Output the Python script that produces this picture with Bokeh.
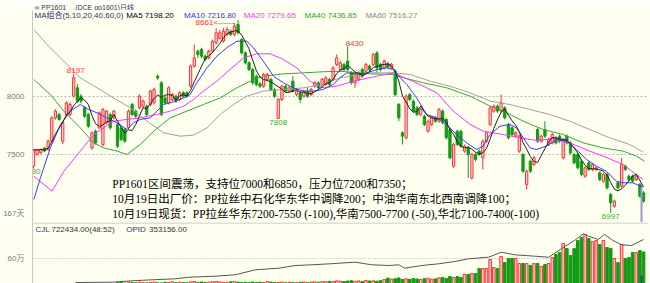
import numpy as np
import pandas as pd
from bokeh.plotting import figure
from bokeh.layouts import column
from bokeh.models import Range1d, FixedTicker, CustomJSTickFormatter, Span
from bokeh.core.properties import value
from bokeh.embed import file_html
from bokeh.resources import INLINE

# ---------------- data ----------------
opens = [7400, 7500, 7515, 7557, 7543, 7615, 7816, 7845, 7615, 7845, 7845,
         8003, 8075, 8003, 7902, 7845, 7557, 7701, 7730, 7586, 7773,
         7845, 7816, 7759, 7730, 7715, 7730, 7931, 7874, 7902, 7917,
         7917, 7931, 7945, 8175, 8118, 7988, 7945, 7974, 8003, 7974,
         8032, 8032, 8089, 8262, 8391, 8405, 8348, 8333, 8391, 8463, 8500,
         8477, 8535, 8563, 8535, 8621, 8491, 8376, 8290, 8233, 8175, 8110, 8089,
         8147, 8147, 8060, 7810, 7974, 8089, 8046, 8132, 8017, 8032,
         8003, 8046, 8017, 8089, 8118, 8103, 8103, 8147, 8147, 8276,
         8233, 8276, 8305, 8204, 8118, 8147, 8233, 8218, 8262, 8276,
         8376, 8276, 8247, 8283, 8247, 8218, 7931, 7687, 7644, 8017,
         7960, 7902, 7845, 7830, 7701, 7759, 7816, 7787, 7874, 7802,
         7715, 7399, 7701, 7701, 7529, 7557, 7299, 7500, 7529, 7471,
         7615, 7759, 7874, 7917, 7874, 7902, 7759, 7730, 7658, 7529,
         7500, 7241, 7442, 7414, 7715, 7615, 7715, 7586,
         7600, 7644, 7658, 7471, 7658, 7600, 7500, 7500, 7442,
         7313, 7428, 7371, 7371, 7342, 7270, 7328, 7155, 7054, 7256,
         7227, 7399, 7313, 7313, 7284, 7241, 7169]
highs = [7550, 7545, 7550, 7560, 7630, 7830, 7890, 7860, 7790, 7960, 7950,
         8197, 8110, 8020, 7920, 7860, 7700, 7715, 7870, 7900, 7885,
         7860, 7885, 7770, 7740, 7730, 7890, 7945, 7888, 8017, 7974,
         7931, 8060, 8075, 8190, 8132, 8003, 8089, 8032, 8017, 8046,
         8046, 8046, 8276, 8448, 8405, 8420, 8362, 8405, 8491, 8590, 8575,
         8592, 8600, 8578, 8635, 8661, 8505, 8390, 8305, 8247, 8190, 8125, 8204,
         8204, 8161, 8075, 7988, 8103, 8103, 8089, 8175, 8060, 8046,
         8060, 8075, 8075, 8132, 8132, 8161, 8175, 8161, 8262, 8362,
         8305, 8290, 8430, 8218, 8204, 8218, 8247, 8290, 8276, 8376,
         8391, 8290, 8319, 8300, 8290, 8233, 7945, 7700, 8017, 8032,
         7974, 7917, 7902, 7845, 7802, 7830, 7830, 7902, 7888, 7816,
         7730, 7600, 7715, 7715, 7586, 7572, 7514, 7514, 7543, 7629,
         7701, 7917, 7931, 7931, 8017, 7917, 7773, 7744, 7701, 7672,
         7514, 7371, 7457, 7486, 7730, 7672, 7787, 7644,
         7687, 7658, 7672, 7644, 7672, 7615, 7514, 7514, 7457,
         7399, 7442, 7428, 7399, 7356, 7342, 7342, 7169, 7112, 7270,
         7471, 7414, 7328, 7328, 7328, 7256, 7184]
lows = [7380, 7490, 7505, 7520, 7530, 7600, 7800, 7790, 7590, 7830, 7830,
        7990, 7945, 7940, 7815, 7730, 7540, 7585, 7720, 7570, 7760,
        7715, 7800, 7557, 7615, 7600, 7715, 7830, 7816, 7888, 7902,
        7830, 7917, 7931, 8140, 7830, 7931, 7931, 7960, 7945, 7960,
        7988, 7988, 8075, 8247, 8333, 8333, 8305, 8319, 8376, 8448, 8490,
        8463, 8520, 8520, 8520, 8535, 8362, 8276, 8218, 8103, 8089, 8075, 8075,
        8132, 8046, 7988, 7808, 7960, 8032, 8032, 8032, 8003, 7945,
        7988, 7988, 8003, 8075, 8060, 8089, 8089, 8089, 8132, 8262,
        8218, 8218, 8218, 8103, 8075, 8132, 8161, 8204, 8218, 8262,
        8204, 8218, 8233, 8240, 8233, 8003, 7787, 7586, 7629, 7960,
        7859, 7830, 7830, 7744, 7687, 7744, 7773, 7773, 7759, 7629,
        7457, 7385, 7572, 7557, 7514, 7299, 7284, 7442, 7486, 7371,
        7600, 7744, 7859, 7859, 7859, 7802, 7629, 7658, 7644, 7514,
        7342, 7198, 7342, 7399, 7600, 7600, 7644, 7572,
        7586, 7586, 7600, 7457, 7586, 7500, 7414, 7371, 7313,
        7299, 7356, 7356, 7356, 7270, 7256, 7198, 6997, 7040, 7198,
        7213, 7356, 7270, 7256, 7270, 7126, 7083]
closes = [7540, 7540, 7545, 7530, 7615, 7816, 7874, 7802, 7773, 7945, 7931,
          8161, 7960, 7960, 7830, 7744, 7687, 7600, 7859, 7888, 7874,
          7730, 7874, 7572, 7629, 7615, 7874, 7845, 7830, 8003, 7960,
          7845, 8046, 8060, 8161, 7845, 7945, 8075, 8017, 7960, 8032,
          8003, 8003, 8262, 8333, 8362, 8348, 8319, 8391, 8477, 8549, 8549,
          8563, 8578, 8535, 8606, 8549, 8376, 8290, 8233, 8118, 8103, 8089, 8190,
          8190, 8060, 8003, 7974, 8089, 8046, 8075, 8046, 8046, 7974,
          8046, 8003, 8060, 8118, 8075, 8147, 8161, 8103, 8247, 8333,
          8290, 8233, 8233, 8118, 8190, 8204, 8175, 8276, 8233, 8362,
          8247, 8233, 8305, 8254, 8276, 8017, 7816, 7658, 8003, 7974,
          7874, 7845, 7888, 7759, 7787, 7816, 7787, 7888, 7773, 7644,
          7471, 7586, 7586, 7572, 7572, 7500, 7500, 7457, 7500, 7615,
          7687, 7902, 7917, 7874, 7945, 7816, 7644, 7672, 7687, 7658,
          7356, 7356, 7356, 7471, 7615, 7658, 7658, 7629,
          7672, 7600, 7615, 7629, 7600, 7514, 7428, 7385, 7328,
          7385, 7371, 7414, 7385, 7284, 7328, 7213, 7083, 7098, 7213,
          7414, 7371, 7284, 7270, 7313, 7141, 7098]
volumes = [62000, 70000, 58000, 66000, 95000, 88000, 74000, 80000, 92000, 78000,
           105000, 96000, 84000, 90000, 101000, 112000, 98000, 94000, 108000, 99000,
           103000, 110000, 117000,
           148000, 152000, 141000, 156000, 150000, 146000, 158000, 149000, 144000, 153000,
           160000, 147000, 142000, 155000, 151000, 163000, 148000, 157000, 150000, 145000,
           162000, 168000, 154000, 160000, 149000, 158000, 165000, 170000, 161000, 156000,
           152000, 163000, 167000, 158000, 150000, 155000, 148000, 160000, 152000, 157000,
           149000, 166000, 159000, 153000, 150000, 158000, 147000, 156000, 151000, 149000,
           155000, 160000, 153000, 158000, 162000, 155000, 168000, 164000,
           172000, 168000, 181000, 176000, 170000, 178000, 185000, 174000, 180000, 171000,
           188000, 179000, 183000, 175000, 186000,
           205000, 232000, 214000, 221000, 236000, 208000, 219000, 211000, 226000, 215000,
           209000, 222000, 230000, 212000, 218000, 238000, 245000, 228000,
           262000, 244000, 262000, 244000, 300000, 300000, 319000, 319000, 412000, 412000,
           412000, 581000, 431000, 412000, 638000, 525000, 600000, 600000, 600000, 506000,
           506000, 506000, 469000, 506000, 506000, 450000, 488000, 506000, 619000, 675000,
           713000, 881000, 788000, 656000, 788000, 938000, 994000, 1050000, 975000, 919000,
           938000, 863000, 938000, 806000, 788000, 600000, 525000, 863000, 600000, 619000,
           713000, 713000, 750000, 722434]

# moving averages as drawn (bar position, value)
ma10_x = [0.1, 1.9, 4.6, 7.4, 10.1, 12.8, 15.1, 17.4, 20.1, 22.9, 25.6, 27.4, 29.2, 32, 33.8,
          35.6, 38.3, 41.1, 42.9, 44.7, 47.5, 50.2, 52.9, 55.7, 58.4, 60.2, 62.9, 65.7, 68.4,
          71.1, 73.9, 76.6, 79.3, 82, 83.9, 85.8, 88.5, 91.3, 94, 96.7, 98.5, 100.4, 102.2,
          104.9, 107.6, 110.4, 113.1, 115.8, 118.6, 121.3, 123.1, 125, 127.7, 130.4, 132.2,
          134.1, 135.9, 137.7, 140.4, 143.2, 145.9, 148.6, 151.4, 154.1, 156.8, 159.6, 161.4,
          164.1, 166.8]
ma10_v = [7112, 7299, 7557, 7759, 7874, 7931, 7888, 7859, 7816, 7773, 7715, 7773, 7802, 7816, 7874,
          7931, 7954, 7988, 8017, 8118, 8247, 8348, 8420, 8477, 8477, 8420, 8305, 8175, 8118,
          8075, 8046, 8046, 8060, 8103, 8161, 8204, 8195, 8204, 8233, 8247, 8233, 8161, 8103,
          7988, 7845, 7816, 7759, 7672, 7600, 7543, 7572, 7672, 7744, 7759, 7730,
          7644, 7557, 7543, 7572, 7629, 7615, 7543, 7457, 7399, 7356, 7270, 7256,
          7256, 7218]
ma20_x = [0.1, 5.1, 8.3, 12.8, 16.5, 19.2, 21.9, 25.6, 29.2, 33.8, 37.4, 41.1, 43.8, 46.5, 50.2,
          53.8, 57.5, 61.1, 64.8, 68.4, 72.1, 75.7, 79.3, 83, 87.6, 94, 98.5, 105.8, 110.4,
          114.9, 119.5, 123.1, 128.6, 133.2, 137.7, 142.3, 146.8, 152.3, 155.9, 161.4, 166.8]
ma20_v = [7313, 7184, 7356, 7529, 7672, 7730, 7787, 7802, 7816, 7845, 7874, 7917, 7974, 8046, 8132,
          8233, 8333, 8368, 8368, 8319, 8247, 8132, 8075, 8089, 8132, 8175, 8204, 8103, 8032,
          7874, 7759, 7701, 7672, 7644, 7621, 7638, 7600, 7529, 7486, 7414, 7285]
ma40_x = [0.1, 4.6, 8.3, 12.8, 16.5, 19.2, 22.9, 25.6, 29.2, 32.9, 37.4, 42, 46.5, 51.1, 55.7,
          59.3, 62.9, 68.4, 73.9, 79.3, 83.9, 92.2, 98.5, 101.3, 106.7, 113.1, 119.5, 125,
          128.6, 134.1, 139.5, 145, 150.5, 155.9, 161.4, 165, 167.3]
ma40_v = [8147, 8017, 7874, 7730, 7600, 7557, 7529, 7500, 7586, 7701, 7816, 7874, 7931, 7988, 8075,
          8132, 8175, 8195, 8204, 8213, 8218, 8195, 8190, 8161, 8118, 8075, 8003, 7917,
          7874, 7787, 7715, 7672, 7600, 7557, 7529, 7486, 7442]
ma60_x = [0.1, 3.7, 8.3, 12.8, 17.4, 21.9, 26.5, 31.1, 35.6, 40.2, 43.8, 47.5, 51.1, 54.7, 58.4,
          62.9, 68.4, 73.9, 79.3, 83.9, 92.2, 98.5, 103.1, 108.6, 114, 119.5, 125, 130.4,
          135.9, 141.3, 146.8, 152.3, 157.7, 163.2, 166.8]
ma60_v = [8578, 8448, 8305, 8161, 8075, 7988, 7902, 7787, 7687, 7658, 7667, 7730, 7845, 7931, 8003,
          8046, 8060, 8075, 8103, 8161, 8204, 8204, 8190, 8132, 8089, 8032, 7960, 7931,
          7888, 7845, 7787, 7715, 7644, 7586, 7523]
# open interest (bar position, value)
oi_x = [11.5, 21.6, 27.0, 32.5, 38.8, 42.6, 49.7, 55.2, 60.7, 67.2, 71.6, 76.2, 81.1, 88.0, 92.6,
        97.3, 100.0, 101.6, 106.3, 110.9, 115.3, 119.1, 124.6, 128.1, 131.7, 137.2, 141.0, 144.5,
        148.1, 150.5, 151.9, 154.6, 156.3, 158.2, 160.9, 163.7, 167.0]
oi_v = [55400, 57500, 67200, 74100, 81000, 92100, 99000, 108700, 143300, 154400, 173100, 178000,
        184900, 196000, 178000, 173100, 178000, 154400, 173100, 184900, 200800, 219500, 230600,
        265200, 247200, 237500, 230600, 288800, 346300, 392700, 376000, 353200, 387800, 353200,
        316500, 311600, 353156]

# labelled extremes: (kind, value)
marks = [("low", 7380), ("high", 8197), ("high", 8661), ("low", 7808), ("high", 8430), ("low", 6997)]

header_texts = ["∞ PP1601", "(DCE pp1601)日线"]
legend_texts = ["MA组合(5,10,20,40,60,0)", "MA5 7198.20", "MA10 7216.80", "MA20 7279.65",
                "MA40 7436.85", "MA60 7516.27"]
note_lines = ["PP1601区间震荡，支持位7000和6850，压力位7200和7350；",
              "10月19日出厂价：PP拉丝中石化华东华中调降200；中油华南东北西南调降100；",
              "10月19日现货：PP拉丝华东7200-7550 (-100),华南7500-7700 (-50),华北7100-7400(-100)"]
vol_texts = ["CJL", "722434.00(48:52)", "OPID", "353156.00"]

# ---------------- styling / layout helpers ----------------
BG = "#fffff0"
RED = "#ff3030"
RED_FILL = "#ffd8d8"
GREEN = "#139a13"
SANS = "Liberation Sans, Noto Sans CJK SC"
SERIF = "Liberation Serif, Noto Sans CJK SC"
W = 650


def bx(px):   # page x pixel -> bar position
    return (px - 31.0) / 3.665


def py(pyy):  # page y pixel -> price
    return 8000 + (96 - pyy) / 0.116


def vy(pyy):  # page y pixel -> volume
    return (290 - pyy) * 18750


def oy(pyy):  # page y pixel -> open interest
    return (290 - pyy) * 353156 / 51


n = min(len(opens), len(highs), len(lows), len(closes))
o = np.array(opens[:n], float)
hi = np.array(highs[:n], float)
lo = np.array(lows[:n], float)
c = np.array(closes[:n], float)
idx = np.arange(n)
inc = c >= o
dec = ~inc
top = np.maximum(o, c)
bot = np.minimum(o, c)
ma5 = pd.Series(c).rolling(5, min_periods=1).mean().values

vol = np.array(volumes, float)
vidx = np.arange(len(vol))
vinc = np.array([bool(inc[i]) if i < n else False for i in vidx])
vdec = ~vinc

xr = Range1d(bx(30), bx(648))


def base(fig):
    fig.background_fill_color = BG
    fig.border_fill_color = BG
    fig.outline_line_color = None


# ---------------- header ----------------
h = figure(width=W, height=10, x_range=Range1d(0, W), y_range=Range1d(10, 0),
           x_axis_type=None, y_axis_type=None, toolbar_location=None,
           output_backend="svg", min_border=0)
base(h)
h.text(x=[2, 45], y=[4.5, 4.5], text=header_texts, text_font=value(SANS),
       text_font_size="7px", text_color="#333366", text_baseline="middle")
h.segment(x0=[0], y0=[9.5], x1=[W], y1=[9.5], line_color="#c8c8c8", line_width=1)

# ---------------- price panel ----------------
p = figure(width=W, height=212, x_range=xr, y_range=Range1d(py(222), py(10)),
           x_axis_type=None, toolbar_location=None, output_backend="svg",
           min_border_left=30, min_border_right=2, min_border_top=0, min_border_bottom=0)
base(p)
p.yaxis.ticker = FixedTicker(ticks=[6990, 7500, 8000])
p.yaxis.formatter = CustomJSTickFormatter(code="return tick == 6990 ? '167天' : String(tick);")
p.yaxis.major_tick_line_color = None
p.yaxis.minor_tick_line_color = None
p.yaxis.axis_line_color = "#c8c8c8"
p.yaxis.major_label_text_font = SANS
p.yaxis.major_label_text_font_size = "8px"
p.yaxis.major_label_text_color = "#7a7a7a"
p.yaxis.major_label_standoff = 2
p.ygrid.ticker = FixedTicker(ticks=[7500, 8000])
p.ygrid.grid_line_color = "#b8b8b8"
p.ygrid.grid_line_dash = "2 2"

# candles
p.segment(x0=idx[inc], y0=hi[inc], x1=idx[inc], y1=lo[inc], line_color=RED, line_width=1)
p.segment(x0=idx[dec], y0=hi[dec], x1=idx[dec], y1=lo[dec], line_color=GREEN, line_width=1)
p.vbar(x=idx[inc], width=0.62, top=top[inc], bottom=bot[inc], fill_color=RED_FILL,
       line_color=RED, line_width=1)
p.vbar(x=idx[dec], width=0.62, top=top[dec], bottom=bot[dec], fill_color=GREEN,
       line_color=GREEN, line_width=1)

# moving averages
p.line(ma60_x, ma60_v, line_color="#a0a0a0", line_width=1)
p.line(ma40_x, ma40_v, line_color="#35a835", line_width=1)
p.line(ma20_x, ma20_v, line_color="#ff33ff", line_width=1)
p.line(ma10_x, ma10_v, line_color="#3a3aff", line_width=1)
p.line(idx, ma5, line_color="#202020", line_width=1)

# cursor
p.segment(x0=[bx(641)], y0=[py(187)], x1=[bx(641)], y1=[py(222)], line_color="#9a9ad8", line_width=2)

# legend row
leg_px = [32, 124, 182, 242, 303, 364]
leg_col = ["#303070", "#000000", "#3333ff", "#ff33ff", "#22aa22", "#888888"]
p.text(x=[bx(v_) for v_ in leg_px], y=[py(15)] * 6, text=legend_texts, text_color=leg_col,
       text_font=value(SANS), text_font_size="8px", text_baseline="middle")

# extreme labels
max_i = int(np.argmax(hi))
for kind, val in marks:
    arr = hi if kind == "high" else lo
    hits = np.where(arr == val)[0]
    if len(hits) == 0:
        continue
    i = int(hits[0])
    if kind == "high":
        if i == max_i:
            p.text(x=[i], y=[val], text=[f"{val}<------"], text_color=RED, text_font=value(SANS),
                   text_font_size="8px", text_align="right", text_baseline="middle",
                   x_offset=-4, y_offset=3)
        else:
            align = "left" if i > 60 else "center"
            p.text(x=[i], y=[val], text=[str(val)], text_color=RED, text_font=value(SANS),
                   text_font_size="8px", text_align=align, text_baseline="bottom",
                   x_offset=-2 if align == "left" else 2, y_offset=-1)
    else:
        align = "right" if i == 0 else "center"
        p.text(x=[i], y=[val], text=[str(val)], text_color="#33aa33", text_font=value(SANS),
               text_font_size="8px", text_align=align, text_baseline="top",
               x_offset=7 if i == 0 else 0, y_offset=1)

# commentary block
p.text(x=[bx(110)] * 3, y=[py(183), py(198), py(213)], text=note_lines, text_color="#000000",
       text_font=value(SERIF), text_font_size="11.5px", text_baseline="middle")

# ---------------- volume panel ----------------
v = figure(width=W, height=61, x_range=xr, y_range=Range1d(vy(283), vy(222)),
           x_axis_type=None, toolbar_location=None, output_backend="svg",
           min_border_left=30, min_border_right=2, min_border_top=0, min_border_bottom=0)
base(v)
v.extra_y_ranges = {"oi": Range1d(oy(283), oy(222))}
v.yaxis.ticker = FixedTicker(ticks=[600000])
v.yaxis.formatter = CustomJSTickFormatter(code="return tick == 600000 ? '60万' : '';")
v.yaxis.major_tick_line_color = None
v.yaxis.minor_tick_line_color = None
v.yaxis.axis_line_color = "#c8c8c8"
v.yaxis.major_label_text_font = SANS
v.yaxis.major_label_text_font_size = "8px"
v.yaxis.major_label_text_color = "#7a7a7a"
v.yaxis.major_label_standoff = 2
v.ygrid.ticker = FixedTicker(ticks=[600000])
v.ygrid.grid_line_color = "#b0b0b0"
v.ygrid.grid_line_dash = "1 2"
v.add_layout(Span(location=vy(222.5), dimension="width", line_color="#c0c0c0", line_width=1))

v.vbar(x=vidx[vinc], width=0.7, top=vol[vinc], bottom=0, fill_color="#ffc4c4",
       line_color=RED, line_width=1)
v.vbar(x=vidx[vdec], width=0.7, top=vol[vdec], bottom=0, fill_color=GREEN,
       line_color=GREEN, line_width=1)
v.line(oi_x, oi_v, y_range_name="oi", line_color="#555555", line_width=1)
v.segment(x0=[bx(641)], y0=[0], x1=[bx(641)], y1=[vy(275)], line_color="#1f5a5a", line_width=2)

v.text(x=[bx(33), bx(49), bx(124), bx(147)], y=[vy(228.5)] * 4, text=vol_texts,
       text_color=["#303090", "#333333", "#303090", "#333333"], text_font=value(SANS),
       text_font_size="8px", text_baseline="middle")

layout = column(h, p, v, spacing=0)
open("out.html", "w").write(file_html(layout, INLINE))
